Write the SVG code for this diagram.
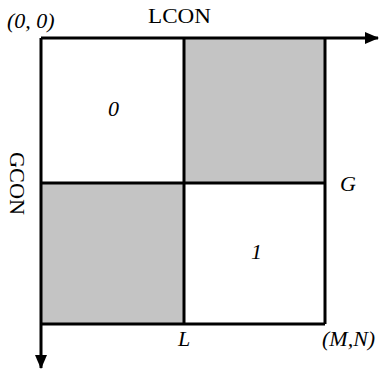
<svg xmlns="http://www.w3.org/2000/svg" width="380" height="372" viewBox="0 0 380 372">
<style>
.t{font-family:"Liberation Serif","Times New Roman",serif;font-size:22px;fill:#000}
.i{font-style:italic}
.ln{stroke:#000;stroke-width:3;fill:none}
.sh{fill:#c4c4c4}
</style>
<defs>
<marker id="ah" markerWidth="14" markerHeight="14" viewBox="0 0 14 14" refX="13" refY="7" orient="auto" markerUnits="userSpaceOnUse">
<path d="M0,1 L14,7 L0,13 Z" fill="#000"/>
</marker>
</defs>
<rect width="380" height="372" fill="#fff"/>
<g id="cell-0"><rect x="41" y="38" width="143" height="145" fill="#fff"/><text class="t i" x="108" y="116">0</text></g>
<g id="cell-tr"><rect class="sh" x="184" y="38" width="141" height="145"/></g>
<g id="cell-bl"><rect class="sh" x="41" y="183" width="143" height="141"/></g>
<g id="cell-1"><rect x="184" y="183" width="141" height="141" fill="#fff"/><text class="t i" x="251" y="259">1</text></g>
<g id="connectors">
<line class="ln" x1="41" y1="38" x2="378" y2="38" marker-end="url(#ah)"/>
<line class="ln" x1="41" y1="38" x2="41" y2="368" marker-end="url(#ah)"/>
<line class="ln" x1="184" y1="38" x2="184" y2="324"/>
<line class="ln" x1="41" y1="183" x2="325" y2="183"/>
<line class="ln" x1="325" y1="38" x2="325" y2="324"/>
<line class="ln" x1="41" y1="324" x2="325" y2="324"/>
</g>
<g id="labels">
<text class="t i" x="7" y="28">(0, 0)</text>
<text class="t" x="148" y="23" textLength="63" lengthAdjust="spacingAndGlyphs">LCON</text>
<text class="t" transform="translate(10,152) rotate(90)" textLength="63" lengthAdjust="spacingAndGlyphs">GCON</text>
<text class="t i" x="340" y="191">G</text>
<text class="t i" x="178" y="346">L</text>
<text class="t i" x="322" y="346">(M,N)</text>
</g>
</svg>
